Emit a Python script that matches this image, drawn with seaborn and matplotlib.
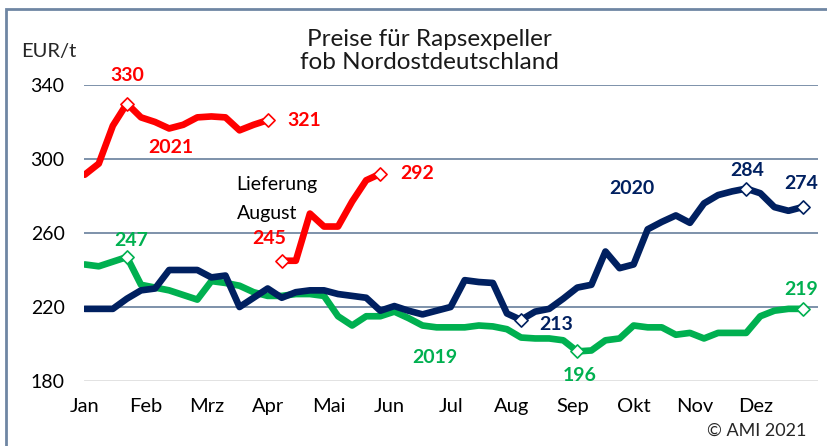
import matplotlib
matplotlib.use("Agg")
import matplotlib.pyplot as plt
import numpy as np
import pandas as pd
import seaborn as sns
from matplotlib.patches import Rectangle

# weekly prices EUR/t, week 0 = first week of January
prices_2019 = [243, 242, 244.5, 247, 232, 230.5, 229, 226.5, 224, 234, 233, 231.5, 228, 226,
               226, 227, 227, 226, 215, 210, 215, 215, 217.5, 214, 210, 209, 209, 209, 210,
               209.5, 208, 203.5, 203, 203, 202, 196, 196.5, 202, 203, 210, 209, 209, 205,
               206, 203, 206, 206, 206, 215, 218, 219, 219]
prices_2020 = [219, 219, 219, 224.5, 229, 230, 240, 240, 240, 236, 237, 220, 225, 230, 225,
               228, 229, 229, 227, 226, 225, 218, 220.5, 218, 216, 218, 220, 234.5, 233.5,
               233, 216.5, 213, 217.5, 219, 224.5, 230.5, 232, 250, 241, 243, 262, 266, 269.5,
               265.5, 276, 280.5, 282.5, 284, 281.5, 274, 272, 274]
prices_2021 = [291.5, 297.5, 318, 330, 322.5, 320, 316.5, 318.5, 322.5, 323, 322.5, 315.5,
               318.5, 321]
lieferung_aug = [245, 245, 270.5, 263.5, 263.5, 277, 288.5, 292]
lieferung_start = 14

months = ["Jan", "Feb", "Mrz", "Apr", "Mai", "Jun", "Jul", "Aug", "Sep", "Okt", "Nov", "Dez"]

# highlighted points (week index)
marks_2019 = [3, 35, 51]
marks_2020 = [31, 47, 51]
marks_2021 = [3, 13]
marks_lief = [0, 7]

RED = "#ff0000"
NAVY = "#002060"
GREEN = "#00b050"

sns.set_theme(style="white")
plt.rcParams["font.family"] = ["Lato", "DejaVu Sans"]

fig = plt.figure(figsize=(8.27, 4.46), dpi=100)
ax = fig.add_axes([84 / 827, 65 / 446, 734 / 827, 296 / 446])

df19 = pd.DataFrame({"week": np.arange(len(prices_2019)), "price": prices_2019})
df20 = pd.DataFrame({"week": np.arange(len(prices_2020)), "price": prices_2020})
df21 = pd.DataFrame({"week": np.arange(len(prices_2021)), "price": prices_2021})
dfl = pd.DataFrame({"week": np.arange(len(lieferung_aug)) + lieferung_start, "price": lieferung_aug})

for y in [220, 260, 300, 340]:
    ax.axhline(y, color="#7389a4", lw=1.3, zorder=0)
ax.axhline(180, color="#d9d9d9", lw=1.8, zorder=0)

lw = 4.8
sns.lineplot(data=df19, x="week", y="price", color=GREEN, lw=lw, ax=ax, zorder=2)
sns.lineplot(data=df20, x="week", y="price", color=NAVY, lw=lw, ax=ax, zorder=3)
sns.lineplot(data=df21, x="week", y="price", color=RED, lw=lw, ax=ax, zorder=4)
sns.lineplot(data=dfl, x="week", y="price", color=RED, lw=lw, ax=ax, zorder=4)

for df, idx, col in [(df19, marks_2019, GREEN), (df20, marks_2020, NAVY),
                     (df21, marks_2021, RED), (dfl, marks_lief, RED)]:
    sub = df.iloc[idx]
    ax.scatter(sub["week"], sub["price"], marker="D", s=45, facecolor="white",
               edgecolor=col, linewidth=1.2, zorder=6)

ax.set_xlim(-0.05, 52.1)
ax.set_ylim(180, 340)
ax.set_xticks([i * 52 / 12 for i in range(12)])
ax.set_xticklabels(months, fontsize=14.5, color="black")
ax.set_yticks([180, 220, 260, 300, 340])
ax.tick_params(axis="y", labelsize=14, labelcolor="black", pad=14, length=0)
ax.tick_params(axis="x", pad=12, length=0)
ax.set_xlabel("")
ax.set_ylabel("")
sns.despine(ax=ax, left=True, bottom=True)

lab = dict(fontsize=14, fontweight="bold", ha="center", va="center", clip_on=False)
ax.text(3.0, 345.4, "330", color=RED, **lab)
ax.text(6.1, 306, "2021", color=RED, **lab)
ax.text(15.6, 320.7, "321", color=RED, **lab)
ax.text(13.1, 257, "245", color=RED, **lab)
ax.text(23.6, 292, "292", color=RED, **lab)
ax.text(3.3, 255.8, "247", color=GREEN, **lab)
ax.text(24.9, 192.6, "2019", color=GREEN, **lab)
ax.text(35.2, 183.2, "196", color=GREEN, **lab)
ax.text(50.9, 229.7, "219", color=GREEN, **lab)
ax.text(38.9, 283.8, "2020", color=NAVY, **lab)
ax.text(47.1, 294, "284", color=NAVY, **lab)
ax.text(50.9, 287, "274", color=NAVY, **lab)
ax.text(33.5, 210.3, "213", color=NAVY, **lab)
ax.text(10.8, 286, "Lieferung", fontsize=14, ha="left", va="center", color="black")
ax.text(10.8, 270.8, "August", fontsize=14, ha="left", va="center", color="black")

fig.text(429 / 827, 1 - 51 / 446, "Preise für Rapsexpeller\nfob Nordostdeutschland",
         ha="center", va="center", fontsize=17.5, fontweight="normal", color="#1a1a1a",
         linespacing=1.15)
fig.text(49 / 827, 1 - 52 / 446, "EUR/t", ha="center", va="center", fontsize=14.5)
fig.text(757 / 827, 1 - 431 / 446, "© AMI 2021", ha="center", va="center", fontsize=13)

fig.add_artist(Rectangle((6 / 827, -0.1), 1.1, 1.1 - 9 / 446, transform=fig.transFigure,
                         fill=False, edgecolor="#6f86a3", lw=2))

fig.savefig("out.png", dpi=100)
